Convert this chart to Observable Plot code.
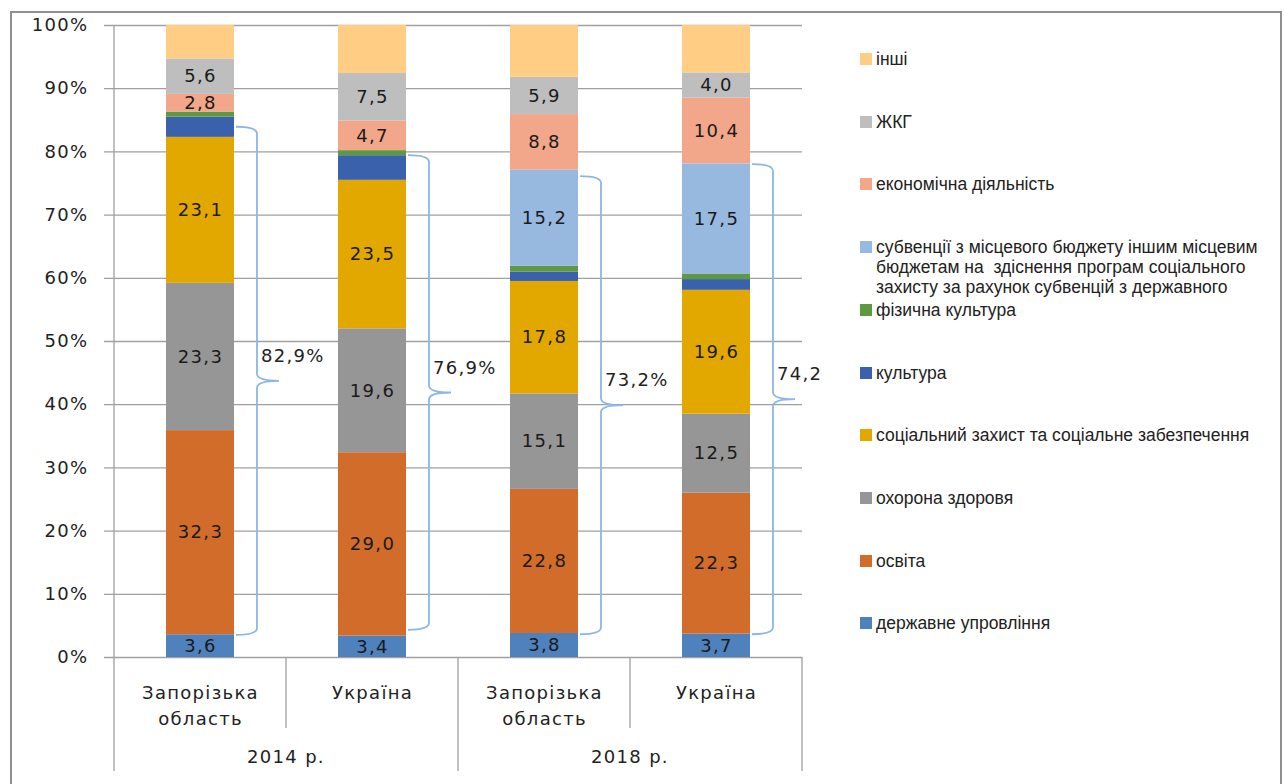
<!DOCTYPE html>
<html><head><meta charset="utf-8">
<script src="https://cdn.jsdelivr.net/npm/d3@7"></script>
<script src="https://cdn.jsdelivr.net/npm/@observablehq/plot@0.6"></script>
<style>
html,body{margin:0;padding:0;background:#fff;overflow:hidden}
#wrap{position:relative;width:1284px;height:784px}
#frame{position:absolute;left:10px;top:11px;width:1272px;height:900px;border:2px solid #8f8f8f;box-sizing:border-box}
#chart{position:absolute;left:0;top:0}
#legend{position:absolute;left:0;top:0;font-family:"Liberation Sans",Arial,sans-serif;font-size:17.5px;color:#222}
.item{position:absolute;left:860px;display:flex;align-items:flex-start}
.sw{width:12px;height:12px;margin-top:4px;margin-right:4px;flex:none}
.lbl{line-height:20px;width:405px;white-space:pre-wrap}
</style></head><body>
<div id="wrap"><div id="frame"></div><div id="chart"></div><div id="legend"></div></div>
<script>
const barKeys = ["Запорізька область, 2014", "Україна, 2014", "Запорізька область, 2018", "Україна, 2018"];
const barLabels = ["Запорізька\nобласть", "Україна", "Запорізька\nобласть", "Україна"];
const yearLabels = ["2014 р.", "2018 р."];
const yearOfBar = [0, 0, 1, 1];

const seriesNames = [
  "державне упровління",
  "освіта",
  "охорона здоровя",
  "соціальний захист та соціальне забезпечення",
  "культура",
  "фізична культура",
  "субвенції з місцевого бюджету іншим місцевим бюджетам на  здіснення програм соціального захисту за рахунок субвенцій з державного",
  "економічна діяльність",
  "ЖКГ",
  "інші"
];
const seriesColors = ["#4F81BD", "#D16C2B", "#969696", "#E2A800", "#3A62AC", "#5E9942", "#97B9E0", "#F2A68A", "#BEBEBE", "#FFCD84"];

const vDerzhavne   = [3.6, 3.4, 3.8, 3.7];
const vOsvita      = [32.3, 29.0, 22.8, 22.3];
const vZdorovya    = [23.3, 19.6, 15.1, 12.5];
const vSotsZakhyst = [23.1, 23.5, 17.8, 19.6];
const vKultura     = [3.2, 3.9, 1.5, 1.7];
const vFizKultura  = [0.8, 0.8, 0.9, 0.8];
const vSubventsii  = [0, 0, 15.2, 17.5];
const vEkonomika   = [2.8, 4.7, 8.8, 10.4];
const vZhkg        = [5.6, 7.5, 5.9, 4.0];
const vInshi       = [5.3, 7.6, 8.2, 7.5];
const seriesValues = [vDerzhavne, vOsvita, vZdorovya, vSotsZakhyst, vKultura, vFizKultura, vSubventsii, vEkonomika, vZhkg, vInshi];
const labelledSeries = [true, true, true, true, false, false, true, true, true, false];

const bracketFrom = [3.5, 4.3, 3.6, 3.6];
const bracketTo = [83.9, 79.4, 76.1, 78.0];
const bracketLabels = ["82,9%", "76,9%", "73,2%", "74,2"];

const yTicks = [0, 10, 20, 30, 40, 50, 60, 70, 80, 90, 100];

const fmt = v => v.toFixed(1).replace(".", ",");

const rows = seriesNames.flatMap((s, si) => barKeys.map((b, bi) => ({
  series: s, bar: b, value: seriesValues[si][bi],
  show: labelledSeries[si] && seriesValues[si][bi] > 0
})));

const gridColor = "#a0a0a0";
const braceColor = "#8DB6E6";

function extras(index, scales, values, dimensions, context) {
  const doc = (context && context.document) || document;
  const xs = scales.x, ys = scales.y;
  const bw = xs.bandwidth(), step = xs.step();
  const g = d3.select(doc.createElementNS("http://www.w3.org/2000/svg", "g"));
  const y0 = ys(0), yTop = ys(100);
  const longEnd = y0 + 114, shortEnd = y0 + 71;
  // separators
  barKeys.forEach((k, i) => {
    const lx = xs(k) + bw / 2 - step / 2;
    const groupStart = i === 0 || yearOfBar[i] !== yearOfBar[i - 1];
    g.append("line").attr("x1", lx).attr("x2", lx)
      .attr("y1", i === 0 ? yTop : y0).attr("y2", groupStart ? longEnd : shortEnd)
      .attr("stroke", gridColor).attr("stroke-width", 1.3);
  });
  const last = barKeys[barKeys.length - 1];
  const rx = xs(last) + bw / 2 + step / 2;
  g.append("line").attr("x1", rx).attr("x2", rx).attr("y1", y0).attr("y2", longEnd)
    .attr("stroke", gridColor).attr("stroke-width", 1.3);
  // year labels
  yearLabels.forEach((lab, yi) => {
    const cs = barKeys.filter((k, i) => yearOfBar[i] === yi).map(k => xs(k) + bw / 2);
    g.append("text").attr("x", d3.mean(cs)).attr("y", y0 + 106)
      .attr("text-anchor", "middle").attr("fill", "#222").text(lab);
  });
  // braces
  barKeys.forEach((k, i) => {
    const x0 = xs(k) + bw + 2, x1 = x0 + 21, xt = x1 + 22, r = 7;
    const yT = ys(bracketTo[i]), yB = ys(bracketFrom[i]), yM = (yT + yB) / 2;
    const p = `M${x0},${yT} Q${x1},${yT} ${x1},${yT + r} L${x1},${yM - r} Q${x1},${yM} ${xt},${yM} Q${x1},${yM} ${x1},${yM + r} L${x1},${yB - r} Q${x1},${yB} ${x0},${yB}`;
    g.append("path").attr("d", p).attr("fill", "none").attr("stroke", braceColor).attr("stroke-width", 1.8);
    g.append("text").attr("x", x1 + 4).attr("y", yM - 24).attr("dominant-baseline", "middle")
      .attr("text-anchor", "start").attr("fill", "#222").text(bracketLabels[i]);
  });
  return g.node();
}

const plot = Plot.plot({
  width: 870, height: 784,
  marginLeft: 113, marginRight: 68, marginTop: 25, marginBottom: 127,
  x: {domain: barKeys, paddingInner: 0.605, paddingOuter: 0.3025, axis: null},
  y: {domain: [0, 100], axis: null},
  color: {domain: seriesNames, range: seriesColors},
  style: {fontFamily: "DejaVu Sans", fontSize: "18px", letterSpacing: "1.3px", background: "transparent", overflow: "visible", color: "#222"},
  marks: [
    Plot.ruleY(yTicks, {y: d => d, stroke: gridColor, strokeWidth: 1.3, insetLeft: -9}),
    Plot.barY(rows, {x: "bar", y: "value", fill: "series"}),
    Plot.text(rows, Plot.stackY({x: "bar", y: "value", z: "series", text: d => d.show ? fmt(d.value) : "", fill: "#1a1a1a"})),
    Plot.text(yTicks, {y: d => d, text: d => d + "%", frameAnchor: "left", textAnchor: "end", dx: -25, fill: "#222"}),
    Plot.text(barKeys, {x: d => d, text: (d, i) => barLabels[i], frameAnchor: "bottom", lineAnchor: "top", dy: 23, lineHeight: 1.44, fill: "#222"}),
    extras
  ]
});
document.getElementById("chart").appendChild(plot);

// legend (reverse order, top = last series)
const legend = document.getElementById("legend");
const order = seriesNames.map((s, i) => i).reverse();
order.forEach((si, j) => {
  const item = document.createElement("div");
  item.className = "item";
  item.style.top = (59 + j * 62.7 - 10) + "px";
  const sw = document.createElement("div");
  sw.className = "sw";
  sw.style.background = seriesColors[si];
  const lb = document.createElement("div");
  lb.className = "lbl";
  lb.textContent = seriesNames[si];
  item.appendChild(sw); item.appendChild(lb);
  legend.appendChild(item);
});
</script></body></html>
